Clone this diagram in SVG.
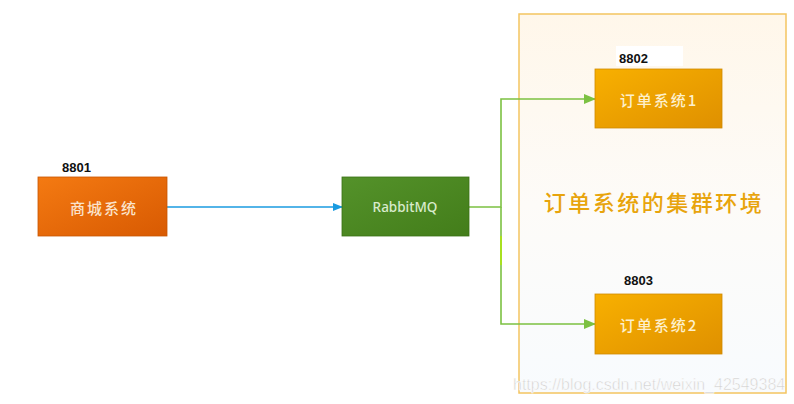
<svg xmlns="http://www.w3.org/2000/svg" width="794" height="404" viewBox="0 0 794 404">
<style>
.lbl{font-family:"Liberation Sans",Arial,sans-serif;font-size:13px;font-weight:bold;fill:#111}
.bt{font-family:"Noto Sans CJK SC","Liberation Sans",sans-serif;font-size:15px;font-weight:500;letter-spacing:2px;text-anchor:middle;dominant-baseline:central}
.conn{fill:none;stroke-width:1.6}
</style>
<defs>
<linearGradient id="gOr" x1="0" y1="0" x2="1" y2="1"><stop offset="0" stop-color="#f47a12"/><stop offset="1" stop-color="#d85a02"/></linearGradient>
<linearGradient id="gGr" x1="0" y1="0" x2="1" y2="1"><stop offset="0" stop-color="#54922a"/><stop offset="1" stop-color="#437d1a"/></linearGradient>
<linearGradient id="gYe" x1="0" y1="0" x2="1" y2="1"><stop offset="0" stop-color="#f8b000"/><stop offset="1" stop-color="#df9000"/></linearGradient>
<linearGradient id="gBg" x1="0" y1="0" x2="0" y2="1"><stop offset="0" stop-color="#fff7ea"/><stop offset="0.5" stop-color="#fdfbf8"/><stop offset="1" stop-color="#f8fbfe"/></linearGradient>
<marker id="aB" markerWidth="10" markerHeight="8" refX="9" refY="4" orient="auto" markerUnits="userSpaceOnUse"><path d="M0,0 L10,4 L0,8 z" fill="#1a9be0"/></marker>
<marker id="aG" markerWidth="12" markerHeight="10" refX="11" refY="5" orient="auto" markerUnits="userSpaceOnUse"><path d="M0,0 L12,5 L0,10 z" fill="#7cc142"/></marker>
</defs>
<rect width="794" height="404" fill="#ffffff"/>
<g id="cluster">
<rect x="519" y="14" width="267" height="379" fill="url(#gBg)" stroke="#f4c560" stroke-width="1.5"/>
<text x="654" y="211" font-family="Noto Sans CJK SC,sans-serif" font-size="22" font-weight="500" letter-spacing="2.5" fill="#e8a40c" text-anchor="middle">订单系统的集群环境</text>
</g>
<g id="connectors">
<line class="conn" x1="167" y1="207" x2="342" y2="207" stroke="#1a9be0" marker-end="url(#aB)"/>
<polyline class="conn" points="469,207 501,207 501,99 595,99" stroke="#7cc142" marker-end="url(#aG)"/>
<polyline class="conn" points="501,207 501,324 595,324" stroke="#7cc142" marker-end="url(#aG)"/>
<line x1="501" y1="236" x2="501" y2="265" stroke="#a8e020" stroke-width="2"/>
</g>
<g id="mall">
<text class="lbl" x="62" y="172">8801</text>
<rect x="38" y="177" width="129" height="59" fill="url(#gOr)" stroke="#c85500" stroke-width="0.8"/>
<text class="bt" x="104" y="207" fill="#fbe3cc">商城系统</text>
</g>
<g id="mq">
<rect x="342" y="177" width="127" height="59" fill="url(#gGr)" stroke="#3b7015" stroke-width="0.8"/>
<text x="405" y="207" fill="#d9ebcc" font-family="Noto Sans,sans-serif" font-size="13.5" font-weight="500" text-anchor="middle" dominant-baseline="central">RabbitMQ</text>
</g>
<g id="order1">
<rect x="616" y="46" width="67" height="20" fill="#ffffff"/>
<text class="lbl" x="619" y="63">8802</text>
<rect x="595" y="69" width="127" height="59" fill="url(#gYe)" stroke="#d08a00" stroke-width="0.8"/>
<text class="bt" x="659" y="99" fill="#fdf0cc">订单系统1</text>
</g>
<g id="order2">
<text class="lbl" x="624" y="285">8803</text>
<rect x="595" y="294" width="127" height="60" fill="url(#gYe)" stroke="#d08a00" stroke-width="0.8"/>
<text class="bt" x="659" y="324" fill="#fdf0cc">订单系统2</text>
</g>
<text x="513" y="390" font-family="Liberation Sans,Arial,sans-serif" font-size="16" fill="#cfcfcf" stroke="#ffffff" stroke-width="0.5">https://blog.csdn.net/weixin_42549384</text>
</svg>
